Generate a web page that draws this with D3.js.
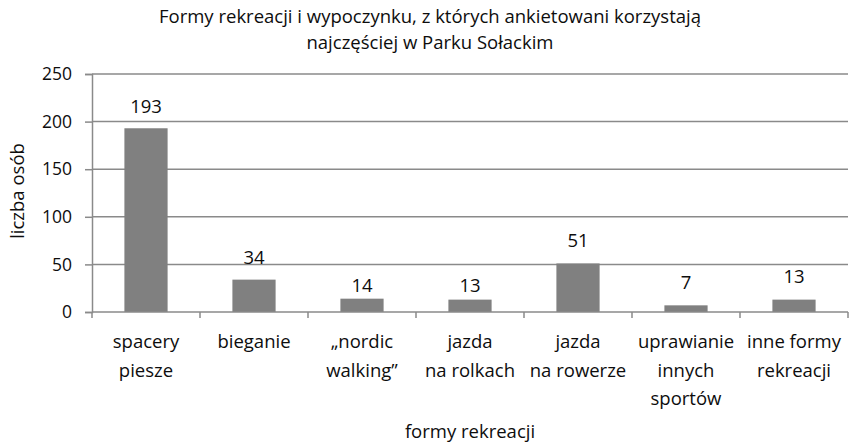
<!DOCTYPE html>
<html>
<head>
<meta charset="utf-8">
<script src="https://cdn.jsdelivr.net/npm/d3@7"></script>
<style>
  html, body { margin: 0; padding: 0; background: #fff; }
  svg { display: block; }
</style>
</head>
<body>
<script>
// Chart data
const categories = [
  ['spacery', 'piesze'],
  ['bieganie'],
  ['„nordic', 'walking”'],
  ['jazda', 'na rolkach'],
  ['jazda', 'na rowerze'],
  ['uprawianie', 'innych', 'sportów'],
  ['inne formy', 'rekreacji']
];
const values = [193, 34, 14, 13, 51, 7, 13];
const yTicks = [0, 50, 100, 150, 200, 250];
const titleLines = ['Formy rekreacji i wypoczynku, z których ankietowani korzystają', 'najczęściej w Parku Sołackim'];
const xTitle = 'formy rekreacji';
const yTitle = 'liczba osób';

const width = 855;
const height = 446;
const margin = { top: 74, right: 7, bottom: 134, left: 92 };
const innerWidth = width - margin.left - margin.right;
const innerHeight = height - margin.top - margin.bottom;
const gray = '#8a8a8a';
const ink = '#0d0d0d';
const fontSize = 18.5;

const svg = d3.select('body')
  .append('svg')
  .attr('width', width)
  .attr('height', height)
  .attr('font-family', '"Open Sans", sans-serif')
  .attr('font-size', fontSize)
  .attr('fill', ink);

const g = svg.append('g')
  .attr('transform', `translate(${margin.left},${margin.top})`);

const keys = categories.map((c, i) => i);

const x = d3.scaleBand()
  .domain(keys)
  .range([0, innerWidth])
  .paddingInner(0.6)
  .paddingOuter(0.3);

const y = d3.scaleLinear()
  .domain([0, 250])
  .range([innerHeight, 0]);

// gridlines
g.selectAll('.grid')
  .data(yTicks.filter(t => t > 0))
  .enter().append('line')
  .attr('x1', 0)
  .attr('x2', innerWidth)
  .attr('y1', d => y(d))
  .attr('y2', d => y(d))
  .attr('stroke', gray)
  .attr('stroke-width', 1.5);

// bars
g.selectAll('.bar')
  .data(values)
  .enter().append('rect')
  .attr('x', (d, i) => x(i))
  .attr('y', d => y(d))
  .attr('width', x.bandwidth())
  .attr('height', d => innerHeight - y(d))
  .attr('fill', '#808080');

// data labels (a few sit lower in the original)
const labelLift = [15, 16, 7, 8, 16, 16, 17];
g.selectAll('.val')
  .data(values)
  .enter().append('text')
  .attr('x', (d, i) => x(i) + x.bandwidth() / 2)
  .attr('y', (d, i) => y(d) - labelLift[i])
  .attr('text-anchor', 'middle')
  .text(d => d);

// y axis
const yAxis = g.append('g')
  .call(d3.axisLeft(y).tickValues(yTicks).tickSize(7).tickPadding(13))
  .attr('font-family', null)
  .attr('font-size', 17.5);
yAxis.select('.domain').attr('stroke', gray).attr('stroke-width', 1.5);
yAxis.selectAll('.tick line').attr('stroke', gray).attr('stroke-width', 1.5);
yAxis.selectAll('text').attr('fill', ink);

// x axis: ticks at category boundaries
const xAxis = g.append('g')
  .attr('transform', `translate(0,${innerHeight})`);
xAxis.append('line')
  .attr('x1', 0)
  .attr('x2', innerWidth)
  .attr('stroke', gray)
  .attr('stroke-width', 1.5);
const step = x.step();
const bounds = d3.range(categories.length + 1).map(i => Math.min(i * step, innerWidth));
xAxis.selectAll('.xt')
  .data(bounds)
  .enter().append('line')
  .attr('x1', d => d)
  .attr('x2', d => d)
  .attr('y1', 0)
  .attr('y2', 6)
  .attr('stroke', gray)
  .attr('stroke-width', 1.5);

// one text per label line
categories.forEach((lines, i) => {
  xAxis.selectAll(`.cat${i}`)
    .data(lines)
    .enter().append('text')
    .attr('x', x(i) + x.bandwidth() / 2)
    .attr('y', (d, j) => 36 + j * 28.5)
    .attr('text-anchor', 'middle')
    .text(d => d);
});

// titles
svg.append('g')
  .selectAll('text')
  .data(titleLines)
  .enter().append('text')
  .attr('x', 430)
  .attr('y', (d, i) => 23 + i * 26)
  .attr('text-anchor', 'middle')
  .text(d => d);

svg.append('text')
  .attr('x', margin.left + innerWidth / 2)
  .attr('y', 438)
  .attr('text-anchor', 'middle')
  .text(xTitle);

svg.append('text')
  .attr('transform', 'rotate(-90)')
  .attr('x', -(margin.top + innerHeight / 2) + 2)
  .attr('y', 24)
  .attr('text-anchor', 'middle')
  .text(yTitle);
</script>
</body>
</html>
